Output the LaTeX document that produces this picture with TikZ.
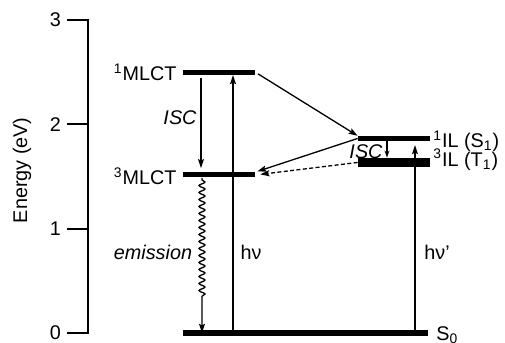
\documentclass[tikz,border=0pt]{standalone}
\usepackage{fontspec}
\setmainfont{Liberation Sans}
\usetikzlibrary{calc, positioning, arrows.meta, decorations.pathmorphing}

\begin{document}
\begin{tikzpicture}[x=0.5pt, y=52.15pt, font=\fontsize{9.9}{11}\selectfont,
  level/.style={fill=black, inner sep=0pt, minimum height=2.5pt, minimum width=36pt},
  trans/.style={-{Stealth[length=4.5pt, width=3pt, inset=0.8pt]}, line width=0.65pt},
  axisline/.style={line width=1pt, line cap=rect}]
  \def\eSMLCT{2.50}
  \def\eTMLCT{1.515}
  \def\eSIL{1.865}
  \def\eTIL{1.635}
  \useasboundingbox (0,-0.0959) rectangle (505,3.1927);
  % energy axis
  \draw[axisline] (88,0) -- (88,3);
  \foreach \e in {0,1,2,3}
    \draw[axisline] (68,\e) -- (88,\e) node[pos=0, left=3pt, inner sep=0pt] {\e};
  \node[rotate=90] (elabel) at (22,1.56) {Energy (eV)};
  % levels
  \node[level] (smlct) at (219,\eSMLCT) {};
  \node[level] (tmlct) at (219,\eTMLCT) {};
  \node[level, minimum height=2.3pt] (sil) at (394,\eSIL) {};
  \node[level, minimum height=4.5pt] (til) at (394,\eTIL) {};
  \node[level, minimum width=122.5pt, minimum height=2.8pt] (gs) at (305.5,0) {};
  \node[anchor=base east, inner sep=0pt] (smlctlab) at (177,2.42) {\textsuperscript{1}MLCT};
  \node[anchor=base east, inner sep=0pt] (tmlctlab) at (177,1.425) {\textsuperscript{3}MLCT};
  \node[anchor=base west, inner sep=0pt] (sillab) at (433,1.78) {\textsuperscript{1}IL (S\textsubscript{1})};
  \node[anchor=base west, inner sep=0pt] (tillab) at (433,1.60) {\textsuperscript{3}IL (T\textsubscript{1})};
  \node[anchor=base west, inner sep=0pt] (gslab) at (436,-0.07) {S\textsubscript{0}};
  % transitions
  \coordinate (iscx) at (201,0);
  \coordinate (hvx) at (233,0);
  \coordinate (emx) at (202,0);
  \coordinate (iscilx) at (387,0);
  \coordinate (hvilx) at (415,0);
  \draw[trans, shorten <=1.5pt, shorten >=2pt] (smlct.south -| iscx) -- (tmlct.north -| iscx);
  \draw[trans] (gs.north -| hvx) -- (smlct.south -| hvx);
  \draw[trans, decorate, decoration={snake, amplitude=1.5pt, segment length=3.5pt,
    pre length=1pt, post length=18pt}] (tmlct.south -| emx) -- ($(gs.north -| emx)+(0,-1.5pt)$);
  \draw[trans, shorten <=1.5pt] (smlct.east) -- (sil.north west);
  \draw[trans, shorten >=1pt] (sil.west) -- (tmlct.north east);
  \draw[trans, dash pattern=on 2pt off 1.2pt, shorten >=2.5pt] (til.west) -- (tmlct.east);
  \draw[trans, -{Stealth[length=3.5pt, width=2.4pt]}] (sil.south -| iscilx) -- (til.north -| iscilx);
  \draw[trans, shorten >=2pt] (gs.north -| hvilx) -- (sil.south -| hvilx);
  % labels
  \node (isclab) at (180,2.06) {\itshape ISC};
  \node (isclabil) at (366,1.735) {\itshape ISC};
  \node (emlab) at (153,0.777) {\itshape emission};
  \node (hvlab) at (251,0.777) {hν};
  \node (hvillab) at (437,0.777) {hν'};
\end{tikzpicture}
\end{document}
